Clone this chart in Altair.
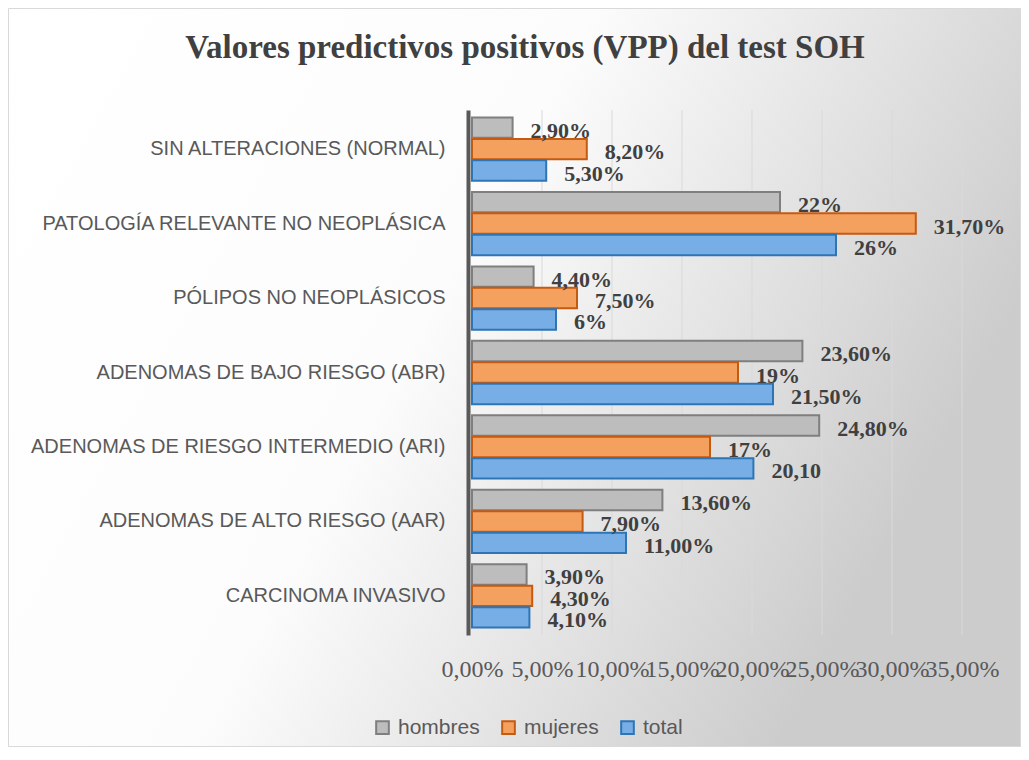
import altair as alt
import pandas as pd

TITLE = "Valores predictivos positivos (VPP) del test SOH"
CATEGORIES = [
    "SIN ALTERACIONES (NORMAL)",
    "PATOLOGÍA RELEVANTE NO NEOPLÁSICA",
    "PÓLIPOS NO NEOPLÁSICOS",
    "ADENOMAS DE BAJO RIESGO (ABR)",
    "ADENOMAS DE RIESGO INTERMEDIO (ARI)",
    "ADENOMAS DE ALTO RIESGO (AAR)",
    "CARCINOMA INVASIVO",
]
SERIES = ["hombres", "mujeres", "total"]
HOMBRES = [2.9, 22.0, 4.4, 23.6, 24.8, 13.6, 3.9]
MUJERES = [8.2, 31.7, 7.5, 19.0, 17.0, 7.9, 4.3]
TOTAL = [5.3, 26.0, 6.0, 21.5, 20.1, 11.0, 4.1]
LABELS_H = ["2,90%", "22%", "4,40%", "23,60%", "24,80%", "13,60%", "3,90%"]
LABELS_M = ["8,20%", "31,70%", "7,50%", "19%", "17%", "7,90%", "4,30%"]
LABELS_T = ["5,30%", "26%", "6%", "21,50%", "20,10", "11,00%", "4,10%"]
TICKS = [0, 5, 10, 15, 20, 25, 30, 35]

rows = []
for s, vals, labs in zip(SERIES, [HOMBRES, MUJERES, TOTAL], [LABELS_H, LABELS_M, LABELS_T]):
    for c, v, l in zip(CATEGORIES, vals, labs):
        rows.append({"categoria": c, "serie": s, "valor": v, "etiqueta": l})
df = pd.DataFrame(rows)

W, H = 490, 525
PAD = {"left": 464, "top": 102, "right": 59, "bottom": 112}

x_scale = alt.Scale(domain=[0, 35], nice=False, zero=True)
y_scale = alt.Scale(domain=CATEGORIES, paddingInner=0.15, paddingOuter=0.1)
off_scale = alt.Scale(domain=SERIES, paddingInner=0.05)
fill_scale = alt.Scale(domain=SERIES, range=["#bdbdbd", "#f4a15f", "#78aee6"])
stroke_scale = alt.Scale(domain=SERIES, range=["#7f7f7f", "#c55a11", "#2e75b6"])

gradient = alt.LinearGradient(
    gradient="linear",
    stops=[
        alt.GradientStop(color="#ffffff", offset=0),
        alt.GradientStop(color="#fcfcfc", offset=0.5),
        alt.GradientStop(color="#cccccc", offset=1),
    ],
    x1=0, y1=0, x2=1, y2=0.4,
)

bg = alt.Chart(alt.Data(values=[{}])).mark_rect(
    fill=gradient, stroke="#d9d9d9", strokeWidth=1
).encode(
    x=alt.value(-PAD["left"] + 0.5),
    x2=alt.value(W + PAD["right"] - 0.5),
    y=alt.value(-PAD["top"] + 0.5),
    y2=alt.value(H + PAD["bottom"] - 0.5),
)

grid = alt.Chart(pd.DataFrame({"valor": TICKS[1:]})).mark_rule(
    color="#d9d9d9", strokeWidth=1
).encode(
    x=alt.X("valor:Q", scale=x_scale),
    y=alt.value(0),
    y2=alt.value(H),
)

legend_cfg = dict(
    orient="none", legendX=-100, legendY=607, direction="horizontal", title=None,
    symbolType="square", symbolSize=160, symbolStrokeWidth=2,
    labelFont="Liberation Sans", labelFontSize=21, labelColor="#595959",
    columnPadding=18, labelOffset=5, zindex=1,
)

bars = alt.Chart(df).mark_bar(strokeWidth=2).encode(
    x=alt.X(
        "valor:Q", scale=x_scale,
        axis=alt.Axis(
            values=TICKS,
            labelExpr="replace(format(datum.value, '.2f'), '.', ',') + '%'",
            labelFont="Liberation Serif", labelFontSize=24, labelColor="#595959",
            labelPadding=22, labelOverlap=False, labelFlush=False,
            domain=False, ticks=False, grid=False, title=None, zindex=1,
        ),
    ),
    y=alt.Y(
        "categoria:N", scale=y_scale, sort=CATEGORIES,
        axis=alt.Axis(
            title=None, ticks=False, grid=False,
            labelFont="Liberation Sans", labelFontSize=20, labelColor="#595959",
            labelPadding=23, labelLimit=500,
            domainColor="#595959", domainWidth=4, offset=4, zindex=1,
        ),
    ),
    yOffset=alt.YOffset("serie:N", scale=off_scale, sort=SERIES),
    fill=alt.Fill("serie:N", scale=fill_scale, legend=alt.Legend(**legend_cfg)),
    stroke=alt.Stroke("serie:N", scale=stroke_scale, legend=alt.Legend(**legend_cfg)),
)

text = alt.Chart(df).mark_text(
    align="left", baseline="middle", dx=18, dy=3,
    font="Liberation Serif", fontSize=22, fontWeight="bold", color="#404040",
).encode(
    x=alt.X("valor:Q", scale=x_scale),
    y=alt.Y("categoria:N", scale=y_scale, sort=CATEGORIES),
    yOffset=alt.YOffset("serie:N", scale=off_scale, sort=SERIES),
    text="etiqueta:N",
)

title = alt.Chart(pd.DataFrame({"t": [TITLE]})).mark_text(
    font="Liberation Serif", fontSize=33, fontWeight="bold", color="#404040",
    align="center", baseline="alphabetic",
).encode(
    text="t:N",
    x=alt.value(525 - 472),
    y=alt.value(58 - 110),
)

chart = alt.layer(bg, grid, bars, text, title).properties(
    width=W, height=H, padding=PAD,
    autosize=alt.AutoSizeParams(type="none"),
    background="#ffffff",
).configure_view(strokeWidth=0)

chart.save("out.html", embed_options={"renderer": "svg", "actions": False})
